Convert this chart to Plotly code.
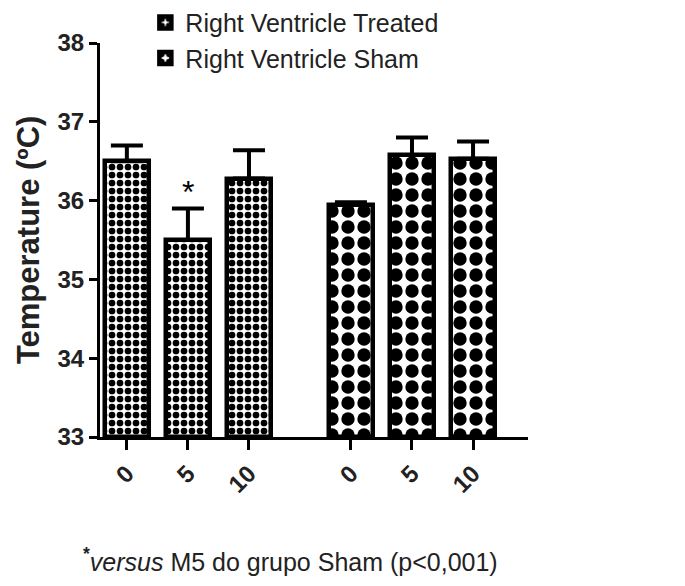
import plotly.graph_objects as go

times = ["0", "5", "10"]
treated_mean = [36.50, 35.50, 36.28]
treated_err = [0.20, 0.40, 0.36]
sham_mean = [35.95, 36.58, 36.53]
sham_err = [0.03, 0.22, 0.22]
series_names = ["Right Ventricle Treated", "Right Ventricle Sham"]
tick_labels = times + times

FONT = "Liberation Sans, Arial, sans-serif"
group_gap = 3.67
x_t = [i for i in range(len(times))]
x_s = [i + group_gap for i in range(len(times))]

fig = go.Figure()
fig.add_trace(go.Bar(
    x=x_t, y=[m - 33 for m in treated_mean], base=33, name=series_names[0], width=0.72,
    legendgroup="t",
    marker=dict(color="white", line=dict(color="black", width=4.5),
                pattern=dict(shape=".", fgcolor="black", bgcolor="white", fgopacity=1,
                             size=8, solidity=0.55)),
    error_y=dict(type="data", symmetric=False, array=treated_err, arrayminus=[0]*3,
                 color="black", thickness=4, width=16),
))
fig.add_trace(go.Bar(
    x=x_s, y=[m - 33 for m in sham_mean], base=33, name=series_names[1], width=0.72,
    legendgroup="s",
    marker=dict(color="white", line=dict(color="black", width=4.5),
                pattern=dict(shape=".", fgcolor="black", bgcolor="white", fgopacity=1,
                             size=16, solidity=0.55)),
    error_y=dict(type="data", symmetric=False, array=sham_err, arrayminus=[0]*3,
                 color="black", thickness=4, width=16),
))

fig.add_annotation(x=x_t[1], y=treated_mean[1] + treated_err[1], text="*", showarrow=False,
                   yanchor="bottom", yshift=-4, font=dict(family=FONT, size=32, color="black"))
fig.add_annotation(xref="paper", yref="paper", x=0.445, y=-0.312, xanchor="center", yanchor="middle",
                   text="<sup><b>*</b></sup><i>versus</i> M5 do grupo Sham (p&lt;0,001)", showarrow=False,
                   font=dict(family=FONT, size=25, color="#222"))
fig.add_annotation(xref="paper", yref="paper", x=-0.168, y=0.5, xanchor="center", yanchor="middle",
                   text="<b>Temperature (ºC)</b>", textangle=-90, showarrow=False,
                   font=dict(family=FONT, size=31, color="#222"))

fig.update_layout(
    width=685, height=586, plot_bgcolor="white", paper_bgcolor="white",
    margin=dict(l=92, r=165, t=35, b=157, autoexpand=False),
    bargap=0, barmode="overlay",
    font=dict(family=FONT, color="black"),
    showlegend=True,
    legend=dict(x=0.106, y=1.11, xanchor="left", yanchor="top", bgcolor="rgba(0,0,0,0)",
                traceorder="normal", tracegroupgap=26,
                font=dict(family=FONT, size=25, color="#222")),
    xaxis=dict(range=[-0.44, 6.57], tickmode="array", tickvals=x_t + x_s, ticktext=tick_labels,
               tickangle=-45, showline=True, linecolor="black", linewidth=3, ticks="outside",
               ticklen=10, tickwidth=3, tickcolor="black", showgrid=False, zeroline=False,
               tickfont=dict(family=FONT, size=24, color="#222", weight="bold")),
    yaxis=dict(range=[33, 38], tickvals=[33, 34, 35, 36, 37, 38], showline=True, linecolor="black",
               linewidth=3, ticks="outside", ticklen=8, tickwidth=3, tickcolor="black",
               showgrid=False, zeroline=False,
               tickfont=dict(family=FONT, size=24, color="#222", weight="bold")),
)

fig.write_html("out.html")
